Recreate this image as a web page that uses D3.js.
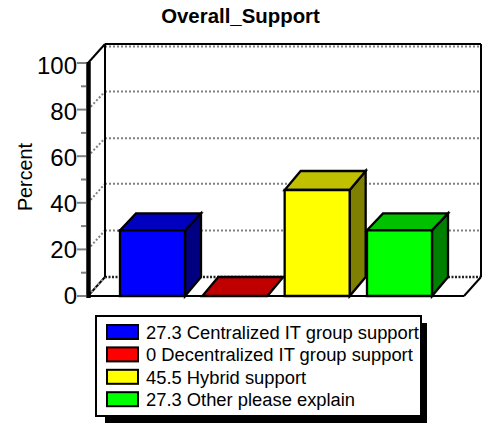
<!DOCTYPE html>
<html><head><meta charset="utf-8">
<script src="https://cdnjs.cloudflare.com/ajax/libs/d3/7.8.5/d3.min.js"></script>
<style>html,body{margin:0;padding:0;background:#fff}svg{display:block}text{font-family:"Liberation Sans",Arial,sans-serif;fill:#000}</style>
</head><body><svg id="c" width="488" height="423"></svg>
<script>
const title = "Overall_Support";
const yLabel = "Percent";
const categories = ["Centralized IT group support","Decentralized IT group support","Hybrid support","Other please explain"];
const values = [27.3,0,45.5,27.3];
const drawnFront = [28.2,0,45.5,28.2]; // front-face height
const frontColors = ["#0000ff","#ff0000","#ffff00","#00ff00"];
const topColors = ["#0000c0","#c00000","#c0c000","#00c000"];
const sideColors = ["#000080","#800000","#808000","#008000"];
const majorTicks = [0,20,40,60,80,100];
const minorTicks = [10,30,50,70,90];

const svg = d3.select("#c");
const x = d3.scalePoint().domain(categories).range([120,367]);
const bw = 65;
const y = d3.scaleLinear().domain([0,100]).range([296,63]);
const labelY = d3.scaleLinear().domain([0,100]).range([304,74]);
const dx = 17, dy = -19, bdx = 16;
const line = (a,b,c,d,col,w,dash) => svg.append("line").attr("x1",a).attr("y1",b).attr("x2",c).attr("y2",d).attr("stroke",col).attr("stroke-width",w).attr("stroke-dasharray",dash||null);

// gridlines
majorTicks.forEach(t=>{
  if(t>0){
    const off = t===100?2.5:(t===60||t===80)?1:0;
    if(t<100) line(88,y(t),88+dx,y(t)+dy+off,"#808080",2,"2 2");
    line(88+dx,y(t)+dy+off,481,y(t)+dy+off,"#808080",2,"2 2");
  }
});
line(88+dx,277,481,277,"#222",2.5,"2 1.5");
line(88,296,88+dx,277,"#000",2);
line(88,296,88+dx,277,"#999",2,"2 3");
// walls
line(105,44,481,44,"#000",2);
line(105,44,105,277,"#000",2);
line(481,44,481,277,"#000",2);
line(88,63,105,44,"#000",2);
line(88,296,464,296,"#000",2);
line(464,296,481,277,"#000",2);
// y axis
line(88.5,62,88.5,298,"#000",4.5);
majorTicks.forEach(t=>line(77,y(t),86,y(t),"#808080",2));
minorTicks.forEach(t=>line(81,y(t),86,y(t),"#808080",2));
majorTicks.forEach(t=>svg.append("text").attr("x",77).attr("y",labelY(t)).attr("text-anchor","end").attr("font-size",24).text(t));
svg.append("text").attr("transform","translate(32,177) rotate(-90)").attr("text-anchor","middle").attr("font-size",19.8).text(yLabel);
svg.append("text").attr("x",240.5).attr("y",23).attr("text-anchor","middle").attr("font-size",20.4).attr("font-weight","bold").text(title);

// bars
const poly = (pts,f)=>svg.append("polygon").attr("points",pts.map(p=>p.join(",")).join(" ")).attr("fill",f).attr("stroke","#000").attr("stroke-width",2.3).attr("stroke-linejoin","miter");
categories.forEach((c,i)=>{
  const l=x(c), r=l+bw, t=y(drawnFront[i]), tb=y(values[i])+dy, b=y(0);
  if(values[i]>0){
    poly([[r,t],[r+bdx,tb],[r+bdx,b+dy],[r,b]],sideColors[i]);
    poly([[l,t],[r,t],[r+bdx,tb],[l+bdx,tb]],topColors[i]);
    poly([[l,t],[r,t],[r,b],[l,b]],frontColors[i]);
  } else {
    poly([[l,t],[r,t],[r+bdx,tb],[l+bdx,tb]],topColors[i]);
  }
});

// legend
svg.append("rect").attr("x",105).attr("y",323).attr("width",322).attr("height",100).attr("fill","#000");
svg.append("rect").attr("x",96).attr("y",316).attr("width",325).attr("height",100).attr("fill","#fff").attr("stroke","#000").attr("stroke-width",2);
categories.forEach((c,i)=>{
  const yy=325+i*22.4;
  svg.append("rect").attr("x",107).attr("y",yy).attr("width",31).attr("height",14).attr("fill",frontColors[i]).attr("stroke","#000").attr("stroke-width",2);
  svg.append("text").attr("x",146).attr("y",yy+14).attr("font-size",18.35).text(values[i]+" "+c);
});
</script></body></html>
